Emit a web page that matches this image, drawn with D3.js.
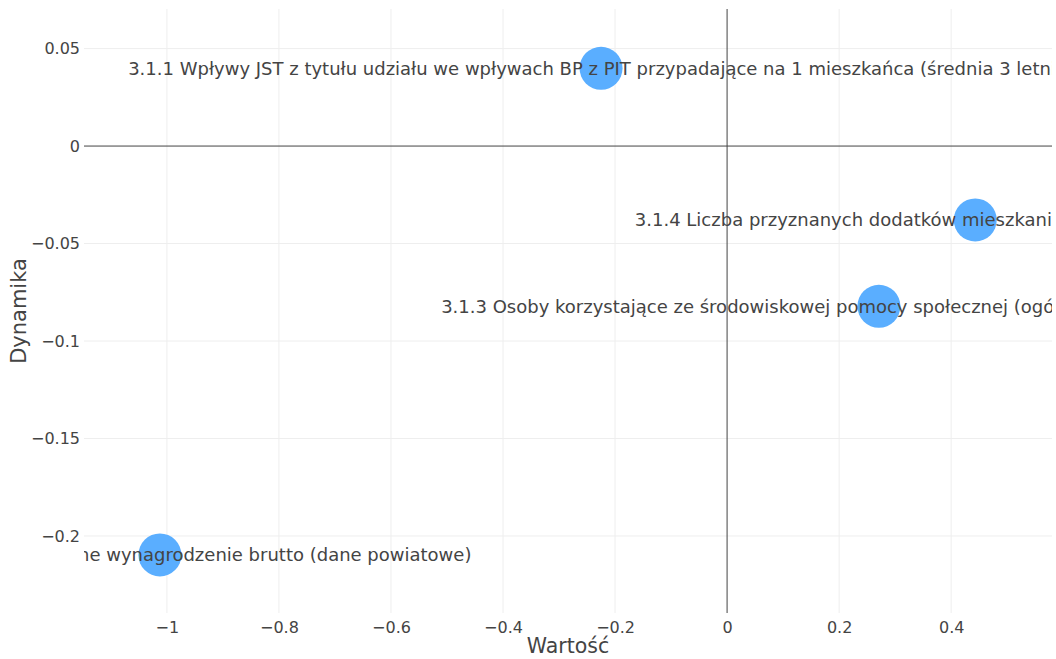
<!DOCTYPE html>
<html>
<head>
<meta charset="utf-8">
<script src="https://cdn.jsdelivr.net/npm/d3@7"></script>
<style>
  body { margin: 0; background: #fff; }
  text { font-family: "DejaVu Sans", Verdana, sans-serif; fill: #444; }
</style>
</head>
<body>
<div id="chart-area"></div>
<script>
// values
var labels = [
    "3.1.1 Wpływy JST z tytułu udziału we wpływach BP z PIT przypadające na 1 mieszkańca (średnia 3 letnia)",
    "3.1.4 Liczba przyznanych dodatków mieszkaniowych na 1000 mieszkańców",
    "3.1.3 Osoby korzystające ze środowiskowej pomocy społecznej (ogółem) na 10 tys. mieszkańców",
    "3.1.2 Przeciętne miesięczne wynagrodzenie brutto (dane powiatowe)"
];
var wartosc = [-0.225, 0.443, 0.271, -1.0125];
var dynamika = [0.0399, -0.0379, -0.0822, -0.2097];

var xTicks = [-1, -0.8, -0.6, -0.4, -0.2, 0, 0.2, 0.4];
var yTicks = [0.05, 0, -0.05, -0.1, -0.15, -0.2];

var width = 1056, height = 659;
var margin = {left: 84, right: 4, top: 9, bottom: 46};

var svg = d3.select("#chart-area")
    .append("svg")
    .attr("width", width)
    .attr("height", height);

var x = d3.scaleLinear()
    .domain([-1.148, 0.580])
    .range([margin.left, width - margin.right]);

var y = d3.scaleLinear()
    .domain([-0.2395, 0.0703])
    .range([height - margin.bottom, margin.top]);

var fmt = d3.format("");

// grid
svg.append("g").selectAll("line").data(xTicks.filter(d => d !== 0)).enter()
    .append("line")
    .attr("x1", d => x(d)).attr("x2", d => x(d))
    .attr("y1", margin.top).attr("y2", height - margin.bottom)
    .attr("stroke", "#eee").attr("stroke-width", 1);

svg.append("g").selectAll("line").data(yTicks.filter(d => d !== 0)).enter()
    .append("line")
    .attr("y1", d => y(d)).attr("y2", d => y(d))
    .attr("x1", margin.left).attr("x2", width - margin.right)
    .attr("stroke", "#eee").attr("stroke-width", 1);

// zero lines
svg.append("line")
    .attr("x1", x(0)).attr("x2", x(0))
    .attr("y1", margin.top).attr("y2", height - margin.bottom)
    .attr("stroke", "#444").attr("stroke-width", 1);
svg.append("line")
    .attr("x1", margin.left).attr("x2", width - margin.right)
    .attr("y1", y(0)).attr("y2", y(0))
    .attr("stroke", "#444").attr("stroke-width", 1);

// axes (labels only)
var xAxis = svg.append("g")
    .attr("transform", "translate(0," + (height - margin.bottom) + ")")
    .call(d3.axisBottom(x).tickValues(xTicks).tickFormat(fmt).tickSize(0).tickPadding(9));
var yAxis = svg.append("g")
    .attr("transform", "translate(" + margin.left + ",0)")
    .call(d3.axisLeft(y).tickValues(yTicks).tickFormat(fmt).tickSize(0).tickPadding(4));
[xAxis, yAxis].forEach(g => {
    g.select(".domain").remove();
    g.selectAll("text").attr("font-size", 16).attr("fill", "#444")
        .style("font-family", "\"DejaVu Sans\", Verdana, sans-serif");
});

// axis titles
svg.append("text")
    .attr("x", (margin.left + width - margin.right) / 2)
    .attr("y", 653)
    .attr("text-anchor", "middle")
    .attr("font-size", 20.5)
    .text("Wartość");

svg.append("text")
    .attr("transform", "translate(26," + ((margin.top + height - margin.bottom) / 2) + ") rotate(-90)")
    .attr("text-anchor", "middle")
    .attr("font-size", 21)
    .text("Dynamika");

// points + labels clipped to plot
svg.append("clipPath").attr("id", "plot-clip")
    .append("rect")
    .attr("x", margin.left).attr("y", margin.top)
    .attr("width", width - margin.left - margin.right)
    .attr("height", height - margin.top - margin.bottom);

var plot = svg.append("g").attr("clip-path", "url(#plot-clip)");

var data = labels.map((l, i) => ({label: l, wartosc: wartosc[i], dynamika: dynamika[i]}));

plot.selectAll("circle").data(data).enter()
    .append("circle")
    .attr("cx", d => x(d.wartosc))
    .attr("cy", d => y(d.dynamika))
    .attr("r", 21.5)
    .attr("fill", "#5aaeff");

plot.selectAll("text.lbl").data(data).enter()
    .append("text")
    .attr("class", "lbl")
    .attr("x", d => x(d.wartosc))
    .attr("y", d => y(d.dynamika))
    .attr("dy", "0.35em")
    .attr("text-anchor", "middle")
    .attr("font-size", 18)
    .text(d => d.label);
</script>
</body>
</html>
